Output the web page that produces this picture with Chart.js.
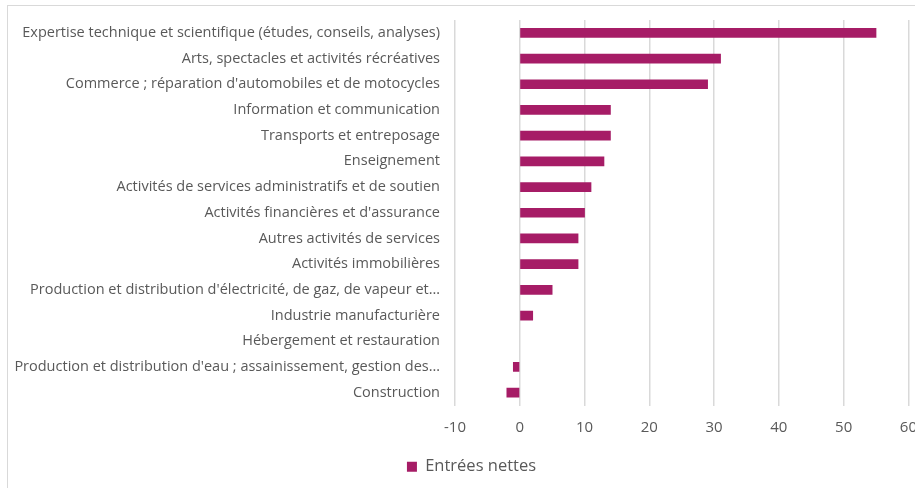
<!DOCTYPE html>
<html>
<head>
<meta charset="utf-8">
<script src="https://cdn.jsdelivr.net/npm/chart.js@4"></script>
<style>
  html, body { margin: 0; padding: 0; background: #fff; overflow: hidden; }
  #frame { position: absolute; left: 7px; top: 5px; width: 1000px; height: 600px; border: 1px solid #d9d9d9; }
  #wrap { position: absolute; left: 0; top: 0; width: 930px; height: 488px; }
</style>
</head>
<body>
<div id="frame"></div>
<div id="wrap"><canvas id="chart"></canvas></div>
<script>
  const categories = [
    'Expertise technique et scientifique (études, conseils, analyses)',
    'Arts, spectacles et activités récréatives',
    "Commerce ; réparation d'automobiles et de motocycles",
    'Information et communication',
    'Transports et entreposage',
    'Enseignement',
    'Activités de services administratifs et de soutien',
    "Activités financières et d'assurance",
    'Autres activités de services',
    'Activités immobilières',
    "Production et distribution d'électricité, de gaz, de vapeur et…",
    'Industrie manufacturière',
    'Hébergement et restauration',
    "Production et distribution d'eau ; assainissement, gestion des…",
    'Construction'
  ];
  const netEntries = [55, 31, 29, 14, 14, 13, 11, 10, 9, 9, 5, 2, 0, -1, -2];
  const seriesName = 'Entrées nettes';
  const xTicks = [-10, 0, 10, 20, 30, 40, 50, 60];

  const textColor = '#595959';
  const barColor = '#a61c66';
  const fontFamily = 'Open Sans';

  // the legend sits a little right of the canvas centre in the original
  const nudgeLegend = {
    id: 'nudgeLegend',
    afterLayout(chart) {
      chart.legend.left += 17;
      chart.legend.right += 17;
    }
  };

  const ctx = document.getElementById('chart').getContext('2d');
  new Chart(ctx, {
    type: 'bar',
    data: {
      labels: categories,
      datasets: [{
        label: seriesName,
        data: netEntries,
        // a zero bar should not leave a sliver
        backgroundColor: (c) => (c.raw === 0 ? 'rgba(0,0,0,0)' : barColor),
        borderWidth: 0,
        barThickness: 9
      }]
    },
    options: {
      indexAxis: 'y',
      responsive: true,
      maintainAspectRatio: false,
      animation: false,
      layout: { padding: { top: 20, right: 21, bottom: 3, left: 0 } },
      scales: {
        x: {
          min: xTicks[0],
          max: xTicks[xTicks.length - 1],
          afterBuildTicks: (scale) => { scale.ticks = xTicks.map(v => ({ value: v })); },
          afterFit: (scale) => { scale.height = 43; },
          grid: { color: '#d9d9d9', lineWidth: 1.5, drawTicks: false },
          border: { display: false },
          ticks: { color: textColor, font: { family: fontFamily, size: 15 }, padding: 13 }
        },
        y: {
          afterFit: (scale) => { scale.width = 455; },
          grid: { display: false },
          border: { display: false },
          ticks: { color: textColor, font: { family: fontFamily, size: 14.5 }, padding: 7, autoSkip: false }
        }
      },
      plugins: {
        legend: {
          position: 'bottom',
          labels: {
            color: textColor,
            font: { family: fontFamily, size: 16.5 },
            boxWidth: 10,
            boxHeight: 10,
            padding: 10
          }
        },
        tooltip: { enabled: false }
      }
    },
    plugins: [nudgeLegend]
  });
</script>
</body>
</html>
